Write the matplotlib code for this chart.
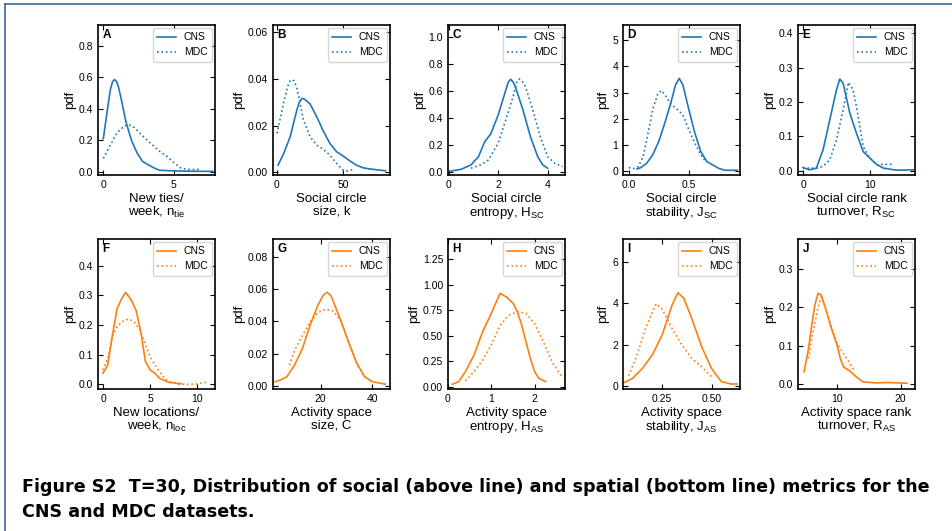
import matplotlib
matplotlib.use("Agg")
import matplotlib.pyplot as plt
from matplotlib.lines import Line2D

plt.rcParams["font.family"] = ["Liberation Sans", "DejaVu Sans"]
plt.rcParams["mathtext.default"] = "regular"

blue = "#1f77b4"
orange = "#ff7f0e"

# ---- social metrics (top row) ----
a_cns_x = [0, 0.3, 0.5, 0.65, 0.8, 0.95, 1.1, 1.3, 1.6, 2.0, 2.4, 2.8, 3.2, 3.6, 4.0, 5.0, 6.0, 7.8]
a_cns_y = [0.21, 0.40, 0.52, 0.57, 0.585, 0.57, 0.53, 0.45, 0.32, 0.2, 0.12, 0.065, 0.045, 0.025, 0.01, 0.006, 0.004, 0.003]
a_mdc_x = [0, 0.5, 1.0, 1.5, 1.8, 2.2, 2.6, 3.0, 3.5, 4.0, 4.5, 5.0, 5.5, 6.0, 6.9]
a_mdc_y = [0.085, 0.17, 0.25, 0.29, 0.30, 0.28, 0.245, 0.21, 0.17, 0.13, 0.10, 0.06, 0.025, 0.015, 0.015]

b_cns_x = [0.8, 5, 10, 15, 17, 19, 21, 25, 30, 35, 40, 45, 50, 55, 60, 65, 70, 82]
b_cns_y = [0.0031, 0.008, 0.0153, 0.0267, 0.0302, 0.0317, 0.0313, 0.0293, 0.0239, 0.0177, 0.0124, 0.0089, 0.007, 0.005, 0.0031, 0.002, 0.0015, 0.0007]
b_mdc_x = [0, 5, 8, 10, 11.5, 13, 15, 17, 20, 25, 30, 35, 40, 45, 50, 53, 58]
b_mdc_y = [0.0167, 0.0296, 0.0367, 0.0392, 0.0397, 0.0392, 0.036, 0.031, 0.0224, 0.0153, 0.0117, 0.0099, 0.0074, 0.0039, 0.001, 0.0006, 0.0013]

c_cns_x = [0.1, 0.5, 0.9, 1.2, 1.45, 1.7, 2.0, 2.3, 2.4, 2.5, 2.6, 2.7, 3.0, 3.3, 3.6, 3.8, 4.0]
c_cns_y = [0.005, 0.017, 0.05, 0.11, 0.22, 0.28, 0.42, 0.6, 0.66, 0.684, 0.665, 0.625, 0.457, 0.26, 0.11, 0.05, 0.025]
c_mdc_x = [0.9, 1.3, 1.6, 2.0, 2.3, 2.6, 2.75, 2.85, 2.95, 3.1, 3.4, 3.7, 4.0, 4.3, 4.6]
c_mdc_y = [0.025, 0.05, 0.086, 0.21, 0.38, 0.555, 0.66, 0.686, 0.675, 0.63, 0.457, 0.26, 0.11, 0.06, 0.037]

d_cns_x = [0.07, 0.1, 0.15, 0.2, 0.25, 0.3, 0.35, 0.39, 0.42, 0.45, 0.5, 0.55, 0.6, 0.65, 0.7, 0.75, 0.8, 0.9]
d_cns_y = [0.08, 0.13, 0.3, 0.62, 1.13, 1.83, 2.6, 3.3, 3.54, 3.3, 2.35, 1.45, 0.74, 0.36, 0.23, 0.1, 0.03, 0.03]
d_mdc_x = [0.0, 0.05, 0.08, 0.12, 0.15, 0.2, 0.24, 0.27, 0.3, 0.35, 0.4, 0.45, 0.5, 0.55, 0.6, 0.63]
d_mdc_y = [0.13, 0.1, 0.17, 0.55, 1.19, 2.35, 2.92, 3.08, 2.92, 2.56, 2.37, 2.15, 1.58, 1.06, 0.62, 0.42]

e_cns_x = [0, 1, 2, 3, 4, 5, 5.5, 6, 7, 8, 9, 10, 11, 12, 14, 16.5]
e_cns_y = [0.0097, 0.003, 0.008, 0.061, 0.148, 0.235, 0.267, 0.255, 0.168, 0.109, 0.056, 0.037, 0.019, 0.008, 0.002, 0.003]
e_mdc_x = [0, 1, 2, 3, 4, 5, 6, 6.8, 7.5, 8, 9, 10, 11, 12, 13, 13.5]
e_mdc_y = [0.008, 0.008, 0.008, 0.013, 0.032, 0.09, 0.177, 0.257, 0.235, 0.187, 0.071, 0.037, 0.017, 0.019, 0.019, 0.019]

# ---- spatial metrics (bottom row) ----
f_cns_x = [0, 0.5, 1, 1.5, 2, 2.4, 3, 3.5, 4, 4.5, 5, 5.5, 6, 7, 8.3]
f_cns_y = [0.037, 0.065, 0.166, 0.256, 0.29, 0.31, 0.284, 0.25, 0.178, 0.076, 0.048, 0.037, 0.02, 0.006, 0.002]
f_mdc_x = [0, 0.5, 1, 1.5, 2, 2.7, 3.3, 4, 4.5, 5, 5.5, 6, 6.5, 7, 8, 9, 10, 11]
f_mdc_y = [0.048, 0.088, 0.16, 0.194, 0.211, 0.22, 0.211, 0.178, 0.133, 0.093, 0.065, 0.043, 0.02, 0.009, 0.0, 0.0, 0.001, 0.007]

g_cns_x = [2.5, 5, 7, 10, 13, 16, 19, 21, 22.5, 24, 25, 28, 31, 34, 37, 40, 45]
g_cns_y = [0.0025, 0.0039, 0.0056, 0.0128, 0.023, 0.0376, 0.05, 0.056, 0.0579, 0.056, 0.052, 0.0397, 0.0263, 0.0139, 0.0056, 0.0025, 0.001]
g_mdc_x = [8, 10, 13, 16, 19, 22, 25, 27, 28, 31, 34, 37, 40]
g_mdc_y = [0.0128, 0.022, 0.031, 0.0397, 0.0455, 0.0475, 0.0463, 0.0418, 0.0397, 0.0263, 0.0139, 0.0056, 0.0025]

h_cns_x = [0.1, 0.25, 0.4, 0.6, 0.8, 1.0, 1.2, 1.35, 1.5, 1.6, 1.7, 1.8, 1.9, 2.0, 2.1, 2.25]
h_cns_y = [0.023, 0.05, 0.147, 0.31, 0.54, 0.72, 0.916, 0.88, 0.82, 0.736, 0.605, 0.44, 0.278, 0.147, 0.08, 0.05]
h_mdc_x = [0.4, 0.6, 0.8, 1.0, 1.2, 1.4, 1.6, 1.8, 2.0, 2.2, 2.4, 2.6, 2.65]
h_mdc_y = [0.056, 0.147, 0.26, 0.41, 0.6, 0.70, 0.736, 0.72, 0.62, 0.44, 0.245, 0.115, 0.09]

i_cns_x = [0.06, 0.1, 0.15, 0.2, 0.25, 0.3, 0.33, 0.36, 0.4, 0.45, 0.5, 0.55, 0.6, 0.63]
i_cns_y = [0.18, 0.37, 0.85, 1.5, 2.46, 3.9, 4.5, 4.23, 3.26, 1.9, 0.85, 0.21, 0.1, 0.1]
i_mdc_x = [0.08, 0.12, 0.16, 0.2, 0.22, 0.25, 0.3, 0.35, 0.4, 0.45, 0.5]
i_mdc_y = [0.5, 1.41, 2.62, 3.55, 3.97, 3.71, 2.78, 1.98, 1.33, 0.93, 0.45]

j_cns_x = [4.8, 5.5, 6, 6.5, 7, 7.5, 8, 8.5, 9, 10, 10.5, 11, 12, 13, 14, 16, 18, 21]
j_cns_y = [0.032, 0.093, 0.154, 0.207, 0.237, 0.233, 0.207, 0.18, 0.15, 0.102, 0.067, 0.045, 0.034, 0.019, 0.006, 0.003, 0.004, 0.002]
j_mdc_x = [5.5, 6, 7, 7.5, 8, 9, 10, 11, 12, 12.8]
j_mdc_y = [0.067, 0.12, 0.2, 0.228, 0.207, 0.154, 0.106, 0.08, 0.054, 0.032]

panels = [
    ("A", a_cns_x, a_cns_y, a_mdc_x, a_mdc_y, "New ties/\nweek, $n_{tie}$", blue, (-0.38, 7.95), (-0.02, 0.93), [0, 5], [0, 0.2, 0.4, 0.6, 0.8]),
    ("B", b_cns_x, b_cns_y, b_mdc_x, b_mdc_y, "Social circle\nsize, k", blue, (-3, 85.4), (-0.0011, 0.0631), [0, 50], [0, 0.02, 0.04, 0.06]),
    ("C", c_cns_x, c_cns_y, c_mdc_x, c_mdc_y, "Social circle\nentropy, $H_{SC}$", blue, (-0.03, 4.7), (-0.025, 1.086), [0, 2, 4], [0, 0.2, 0.4, 0.6, 0.8, 1.0]),
    ("D", d_cns_x, d_cns_y, d_mdc_x, d_mdc_y, "Social circle\nstability, $J_{SC}$", blue, (-0.047, 0.925), (-0.15, 5.58), [0, 0.5], [0, 1, 2, 3, 4, 5]),
    ("E", e_cns_x, e_cns_y, e_mdc_x, e_mdc_y, "Social circle rank\nturnover, $R_{SC}$", blue, (-0.75, 16.75), (-0.012, 0.424), [0, 10], [0, 0.1, 0.2, 0.3, 0.4]),
    ("F", f_cns_x, f_cns_y, f_mdc_x, f_mdc_y, "New locations/\nweek, $n_{loc}$", orange, (-0.53, 11.87), (-0.016, 0.49), [0, 5, 10], [0, 0.1, 0.2, 0.3, 0.4]),
    ("G", g_cns_x, g_cns_y, g_mdc_x, g_mdc_y, "Activity space\nsize, C", orange, (1.68, 46.8), (-0.002, 0.091), [20, 40], [0, 0.02, 0.04, 0.06, 0.08]),
    ("H", h_cns_x, h_cns_y, h_mdc_x, h_mdc_y, "Activity space\nentropy, $H_{AS}$", orange, (0.02, 2.7), (-0.023, 1.45), [0, 1, 2], [0, 0.25, 0.5, 0.75, 1.0, 1.25]),
    ("I", i_cns_x, i_cns_y, i_mdc_x, i_mdc_y, "Activity space\nstability, $J_{AS}$", orange, (0.052, 0.644), (-0.14, 7.09), [0.25, 0.5], [0, 2, 4, 6]),
    ("J", j_cns_x, j_cns_y, j_mdc_x, j_mdc_y, "Activity space rank\nturnover, $R_{AS}$", orange, (3.84, 22.26), (-0.013, 0.379), [10, 20], [0, 0.1, 0.2, 0.3]),
]

fig = plt.figure(figsize=(9.53, 5.31), dpi=100)

lefts = [98, 273, 448, 623, 798]
tops = [25, 239]
W, H = 953.0, 531.0

for k, p in enumerate(panels):
    letter, cx, cy, mx, my, xlab, col, xl, yl, xt, yt = p
    row, colno = divmod(k, 5)
    ax = fig.add_axes([lefts[colno] / W, 1 - (tops[row] + 150) / H, 117 / W, 150 / H])
    ax.plot(cx, cy, color=col, lw=1.2, label="CNS")
    ax.plot(mx, my, color=col, lw=1.2, ls=":", label="MDC")
    ax.set_xlim(xl)
    ax.set_ylim(yl)
    ax.set_xticks(xt)
    ax.set_yticks(yt)
    if letter == "D":
        ax.set_xticklabels(["0.0", "0.5"])
    ax.tick_params(direction="in", top=True, right=True, labelsize=7.5, length=3.5, width=0.8)
    for s in ax.spines.values():
        s.set_linewidth(1.2)
    ax.set_xlabel(xlab, fontsize=9.5, labelpad=2, linespacing=1.05)
    ax.set_ylabel("pdf", fontsize=9.5, labelpad=2)
    ax.text(0.04, 0.97, letter, transform=ax.transAxes, ha="left", va="top",
            fontsize=8.5, fontweight="bold")
    ax.legend(loc="upper right", fontsize=7.5, handlelength=1.8, borderpad=0.4,
              labelspacing=0.5, handletextpad=0.8, borderaxespad=0.3)

# blue frame at top and left
fig.add_artist(Line2D([5 / W, 1], [1 - 4 / H, 1 - 4 / H], color="#3d6a9c", lw=1.2))
fig.add_artist(Line2D([5 / W, 5 / W], [0, 1 - 4 / H], color="#3d6a9c", lw=1.2))

cap = ("Figure S2  T=30, Distribution of social (above line) and spatial (bottom line) metrics for the\n"
       "CNS and MDC datasets.")
fig.text(22 / W, 1 - 478 / H, cap, ha="left", va="top", fontsize=12.6, fontweight="bold",
         family=["Liberation Sans Narrow", "DejaVu Sans"], linespacing=1.5)

fig.savefig("out.png", dpi=100)
